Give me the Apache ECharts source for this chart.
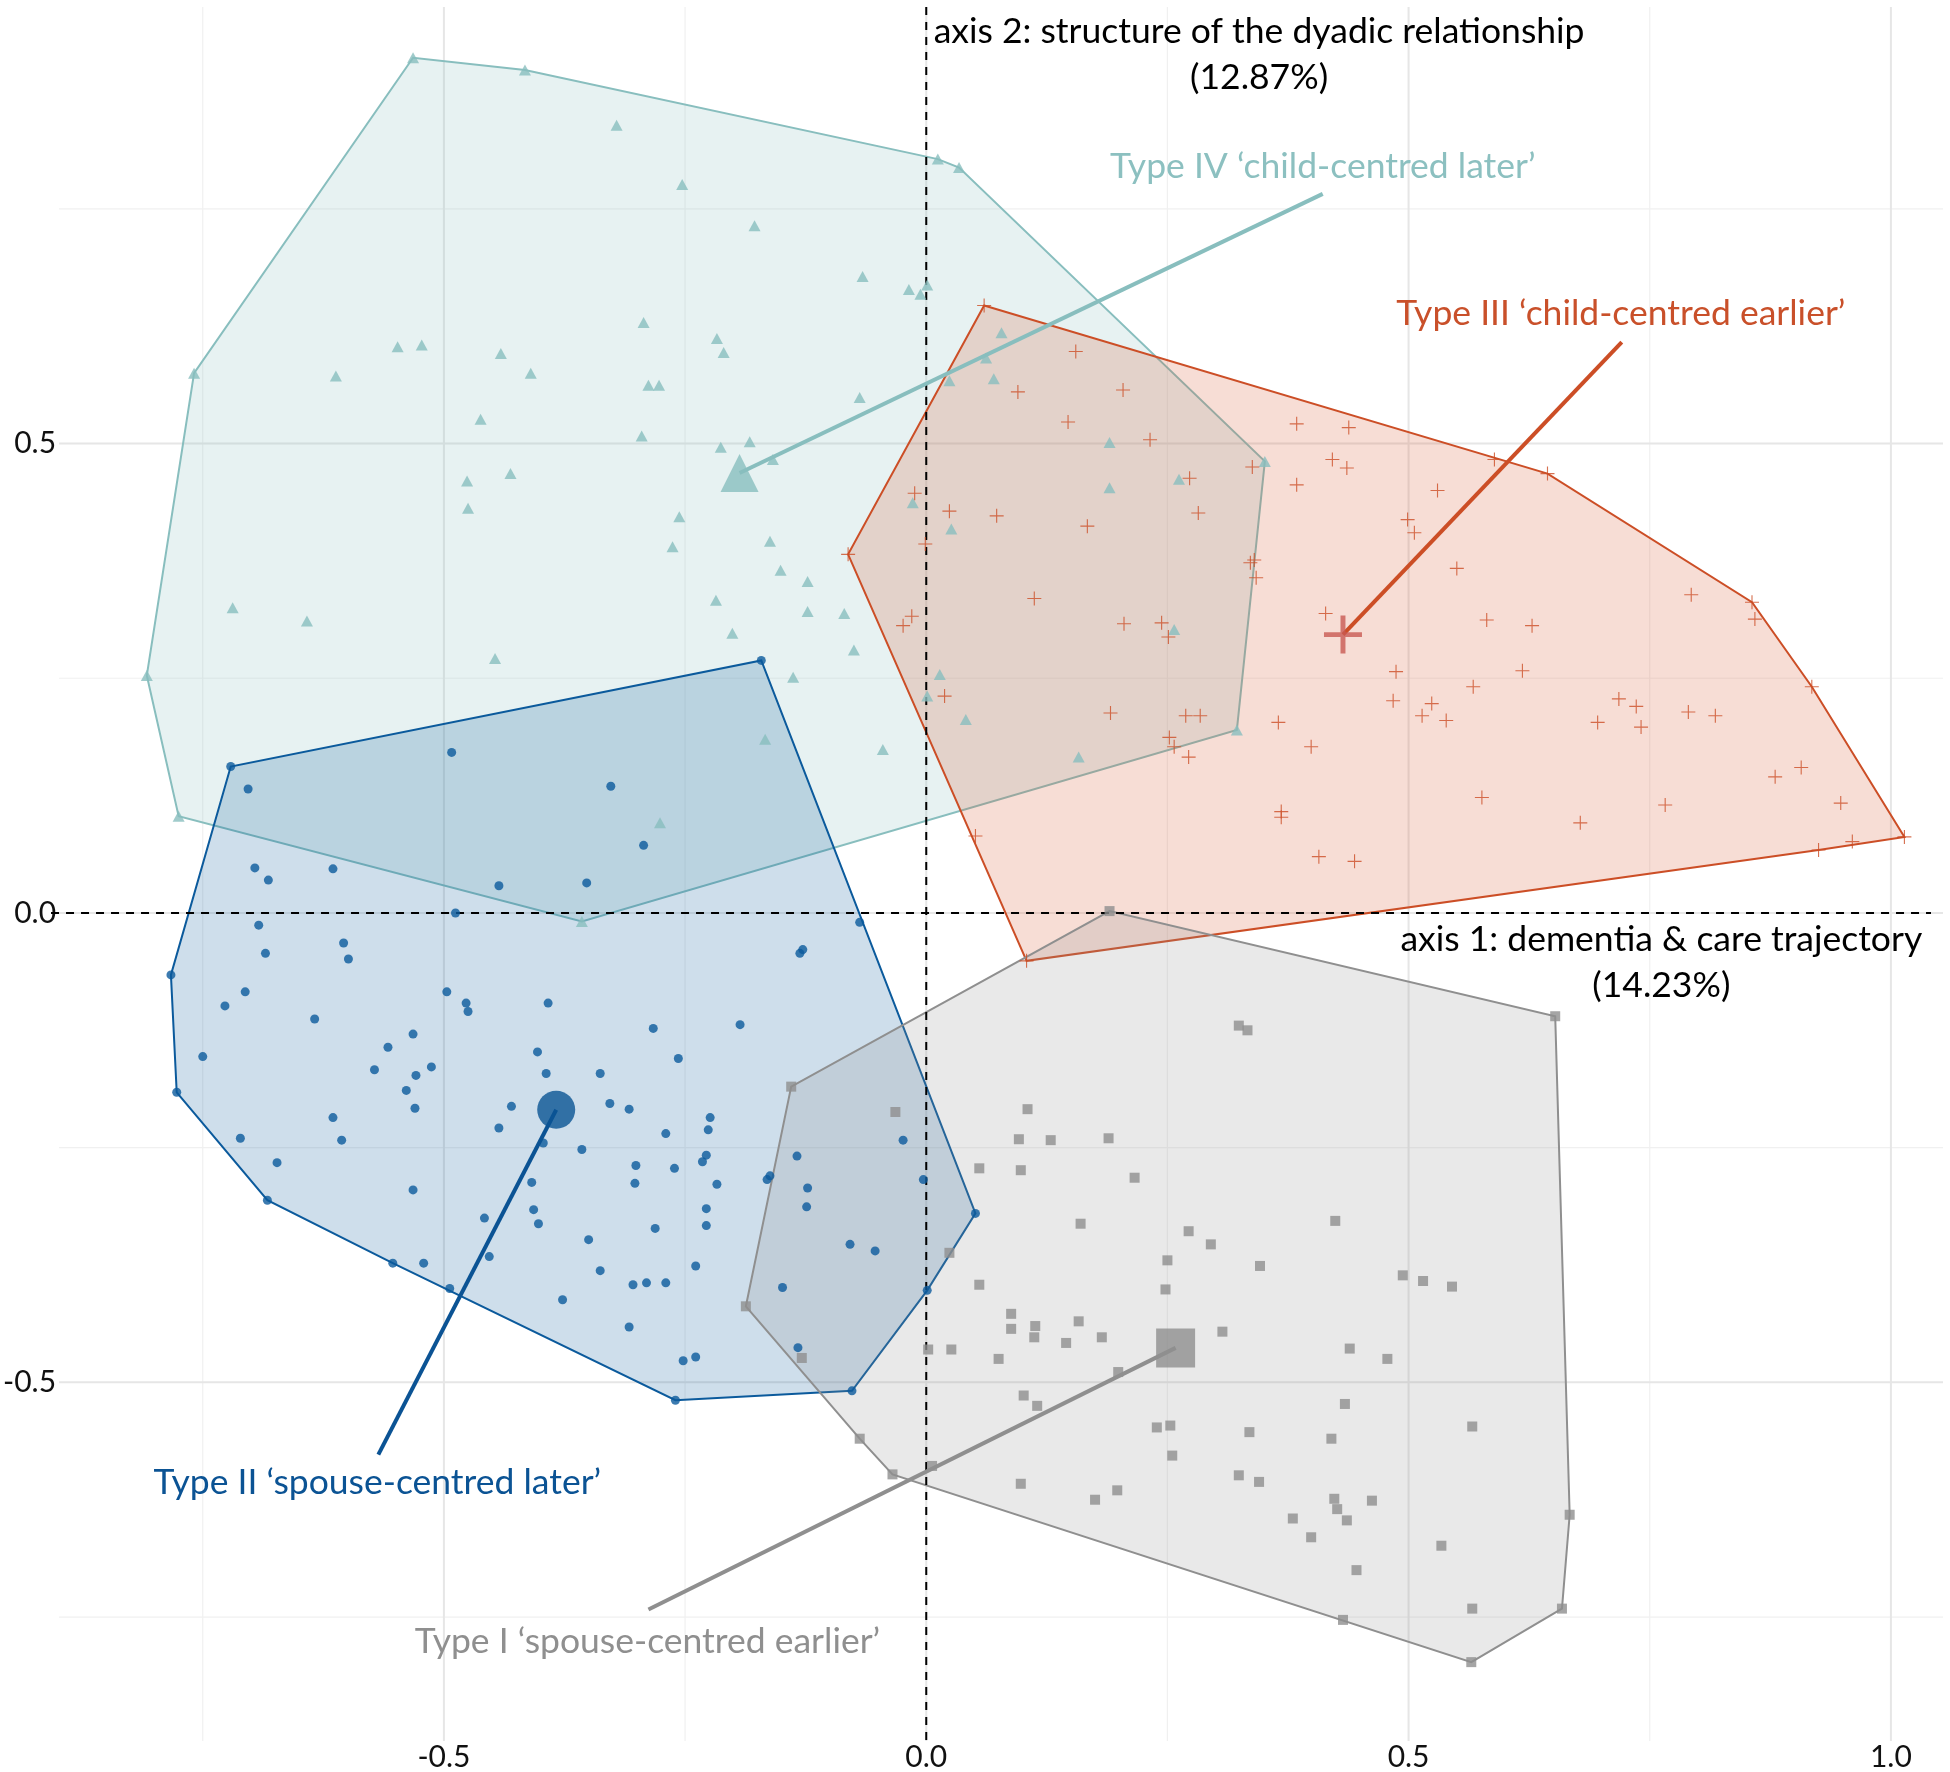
<!DOCTYPE html>
<html><head><meta charset="utf-8">
<script src="https://cdn.jsdelivr.net/npm/echarts@6/dist/echarts.min.js"></script>
<style>html,body{margin:0;padding:0;background:#fff}#c{width:1950px;height:1772px}</style>
</head><body><div id="c"></div>
<script>
// ---- data (axis 1, axis 2) ----
const typeI = [[0.190,0.002],[0.652,-0.110],[0.324,-0.120],[0.333,-0.125],[0.105,-0.209],[0.096,-0.241],[0.129,-0.242],[0.189,-0.240],[0.055,-0.272],[0.098,-0.274],[0.216,-0.282],[0.160,-0.331],[0.424,-0.328],[0.272,-0.339],[0.295,-0.353],[0.250,-0.370],[0.346,-0.376],[0.494,-0.386],[0.515,-0.392],[0.545,-0.398],[0.055,-0.396],[0.248,-0.401],[0.088,-0.427],[0.088,-0.443],[0.113,-0.440],[0.112,-0.452],[0.158,-0.435],[0.145,-0.458],[0.182,-0.452],[0.307,-0.446],[0.075,-0.475],[0.199,-0.489],[0.439,-0.464],[0.478,-0.475],[0.101,-0.514],[0.115,-0.525],[0.434,-0.523],[0.239,-0.548],[0.253,-0.546],[0.335,-0.553],[0.420,-0.560],[0.566,-0.547],[0.255,-0.578],[0.324,-0.599],[0.345,-0.606],[0.098,-0.608],[0.175,-0.625],[0.198,-0.615],[0.423,-0.624],[0.426,-0.635],[0.436,-0.647],[0.462,-0.626],[0.380,-0.645],[0.399,-0.665],[0.667,-0.641],[0.534,-0.674],[0.446,-0.700],[0.566,-0.741],[0.659,-0.741],[0.432,-0.753],[0.565,-0.798],[-0.140,-0.185],[-0.032,-0.212],[0.024,-0.362],[-0.187,-0.419],[-0.129,-0.474],[0.002,-0.465],[0.026,-0.465],[-0.069,-0.560],[-0.035,-0.598],[0.006,-0.589]];
const typeII = [[-0.171,0.269],[-0.721,0.156],[-0.492,0.171],[-0.703,0.132],[-0.327,0.135],[-0.293,0.072],[-0.696,0.048],[-0.682,0.035],[-0.615,0.047],[-0.443,0.029],[-0.352,0.032],[-0.488,0.000],[-0.692,-0.013],[-0.604,-0.032],[-0.599,-0.049],[-0.685,-0.043],[-0.069,-0.010],[-0.128,-0.039],[-0.131,-0.043],[-0.783,-0.066],[-0.706,-0.084],[-0.727,-0.099],[-0.497,-0.084],[-0.477,-0.096],[-0.475,-0.105],[-0.392,-0.096],[-0.634,-0.113],[-0.283,-0.123],[-0.193,-0.119],[-0.750,-0.153],[-0.532,-0.129],[-0.558,-0.143],[-0.403,-0.148],[-0.257,-0.155],[-0.572,-0.167],[-0.529,-0.173],[-0.513,-0.164],[-0.394,-0.171],[-0.338,-0.171],[-0.777,-0.191],[-0.539,-0.189],[-0.530,-0.208],[-0.430,-0.206],[-0.328,-0.203],[-0.308,-0.209],[-0.615,-0.218],[-0.443,-0.229],[-0.224,-0.218],[-0.226,-0.231],[-0.270,-0.235],[-0.024,-0.242],[-0.711,-0.240],[-0.606,-0.242],[-0.397,-0.245],[-0.357,-0.252],[-0.673,-0.266],[-0.228,-0.258],[-0.232,-0.265],[-0.301,-0.269],[-0.261,-0.272],[-0.134,-0.259],[-0.162,-0.280],[-0.165,-0.284],[-0.003,-0.284],[-0.302,-0.288],[-0.217,-0.289],[-0.409,-0.287],[-0.532,-0.295],[-0.123,-0.293],[-0.683,-0.306],[-0.124,-0.313],[-0.228,-0.315],[-0.407,-0.316],[0.051,-0.320],[-0.402,-0.331],[-0.228,-0.333],[-0.458,-0.325],[-0.281,-0.336],[-0.350,-0.348],[-0.079,-0.353],[-0.053,-0.360],[-0.453,-0.366],[-0.338,-0.381],[-0.553,-0.373],[-0.521,-0.373],[-0.239,-0.376],[-0.494,-0.400],[-0.304,-0.396],[-0.290,-0.394],[-0.270,-0.394],[-0.149,-0.399],[0.001,-0.402],[-0.377,-0.412],[-0.308,-0.441],[-0.133,-0.463],[-0.252,-0.477],[-0.239,-0.473],[-0.077,-0.509],[-0.260,-0.519]];
const typeIII = [[0.060,0.647],[0.155,0.598],[0.095,0.555],[0.204,0.557],[0.147,0.523],[0.232,0.504],[0.384,0.521],[0.438,0.517],[0.421,0.483],[0.436,0.474],[0.589,0.483],[0.644,0.468],[0.338,0.475],[0.273,0.463],[0.384,0.456],[0.530,0.450],[0.073,0.423],[0.167,0.412],[0.282,0.426],[0.499,0.419],[0.506,0.405],[0.550,0.367],[0.336,0.373],[0.340,0.376],[0.342,0.357],[0.793,0.339],[0.856,0.331],[0.859,0.313],[0.112,0.335],[0.414,0.319],[0.581,0.312],[0.628,0.306],[0.205,0.308],[0.244,0.309],[0.251,0.294],[0.487,0.257],[0.618,0.258],[0.567,0.241],[0.918,0.241],[0.484,0.226],[0.524,0.223],[0.514,0.210],[0.539,0.205],[0.718,0.228],[0.736,0.220],[0.741,0.198],[0.696,0.203],[0.790,0.214],[0.818,0.210],[0.191,0.213],[0.269,0.210],[0.284,0.210],[0.365,0.203],[0.399,0.177],[0.252,0.187],[0.257,0.177],[0.272,0.166],[0.880,0.145],[0.907,0.155],[0.576,0.123],[0.766,0.115],[0.948,0.117],[0.368,0.108],[0.368,0.102],[0.678,0.096],[1.014,0.081],[0.925,0.067],[0.960,0.076],[0.407,0.060],[0.444,0.055],[-0.081,0.382],[-0.012,0.447],[0.024,0.428],[-0.001,0.393],[-0.024,0.306],[-0.015,0.316],[0.019,0.231],[0.051,0.082],[0.104,-0.051]];
const typeIV = [[-0.532,0.911],[-0.416,0.898],[-0.321,0.839],[-0.253,0.776],[-0.178,0.732],[-0.066,0.678],[-0.018,0.664],[-0.006,0.659],[0.001,0.669],[0.012,0.803],[0.034,0.794],[-0.293,0.629],[-0.217,0.612],[-0.210,0.597],[-0.548,0.603],[-0.523,0.605],[-0.441,0.596],[-0.410,0.575],[-0.612,0.572],[-0.759,0.575],[-0.288,0.562],[-0.277,0.562],[-0.069,0.549],[0.024,0.567],[-0.462,0.526],[-0.295,0.508],[-0.213,0.496],[-0.183,0.502],[-0.159,0.483],[-0.476,0.460],[-0.431,0.468],[-0.475,0.431],[-0.256,0.422],[-0.263,0.390],[-0.162,0.396],[-0.014,0.437],[0.026,0.409],[-0.151,0.365],[-0.123,0.353],[-0.218,0.333],[-0.123,0.321],[-0.085,0.319],[-0.719,0.325],[-0.642,0.311],[-0.201,0.298],[-0.075,0.280],[-0.447,0.271],[-0.138,0.251],[-0.808,0.253],[0.014,0.254],[0.001,0.231],[0.041,0.206],[-0.167,0.185],[-0.045,0.174],[-0.276,0.096],[-0.775,0.103],[0.078,0.618],[0.070,0.569],[0.062,0.591],[0.190,0.501],[0.190,0.453],[0.262,0.462],[0.351,0.481],[0.257,0.302],[0.322,0.195],[0.158,0.166],[-0.357,-0.009]];

const centroidI = [0.2585,-0.4633];
const centroidII = [-0.3836,-0.2096];
const centroidIII = [0.432,0.2965];
const centroidIV = [-0.1935,0.4686];

// label anchors: end of connector, and text centre
const connectorEnd = [[-0.288,-0.742],[-0.568,-0.577],[0.721,0.608],[0.411,0.766]];
const typeNames = ['Type I \u2018spouse-centred earlier\u2019','Type II \u2018spouse-centred later\u2019','Type III \u2018child-centred earlier\u2019','Type IV \u2018child-centred later\u2019'];
const typeLabelPos = [[-0.289,-0.776],[-0.569,-0.607],[0.720,0.638],[0.411,0.795]];

const axisNoteText = ['axis 2: structure of the dyadic relationship','(12.87%)','axis 1: dementia & care trajectory','(14.23%)'];
const axisNotePos = [[0.345,0.939],[0.345,0.890],[0.762,-0.028],[0.762,-0.077]];

const xTickValues = [-0.5,0,0.5,1.0];
const xTickLabels = ['-0.5','0.0','0.5','1.0'];
const yTickValues = [-0.5,0,0.5];
const yTickLabels = ['-0.5','0.0','0.5'];
const gridMajorX = [-0.5,0,0.5,1.0];
const gridMinorX = [-0.75,-0.25,0.25,0.75];
const gridMajorY = [-0.5,0,0.5];
const gridMinorY = [-0.75,-0.25,0.25,0.75];

// ---- styles ----
const colI='#8F8F8F', colII='#0B5A9C', colIII='#CC4E26', colIV='#88BEBE';
const fillI='rgba(143,143,143,0.2)', fillII='rgba(11,90,156,0.2)', fillIII='rgba(214,84,44,0.2)', fillIV='rgba(136,190,190,0.2)';
const textCol=['#8F8F8F','#0B5394','#C9502A','#8CC0C0'];
const XMIN=-0.899, XMAX=1.054, YMIN=-0.882, YMAX=0.965;
const FONT='Lato';
const NOTE_FONT='35.5px '+FONT;

function convexHull(pts){
  const p=pts.slice().sort((a,b)=>a[0]-b[0]||a[1]-b[1]);
  const cr=(o,a,b)=>(a[0]-o[0])*(b[1]-o[1])-(a[1]-o[1])*(b[0]-o[0]);
  const lo=[];for(const q of p){while(lo.length>=2&&cr(lo[lo.length-2],lo[lo.length-1],q)<=0)lo.pop();lo.push(q);}
  const up=[];for(let i=p.length-1;i>=0;i--){const q=p[i];while(up.length>=2&&cr(up[up.length-2],up[up.length-1],q)<=0)up.pop();up.push(q);}
  lo.pop();up.pop();return lo.concat(up);
}

function hullSeries(pts, stroke, fill){
  const h=convexHull(pts);
  return {type:'custom',silent:true,z:1,data:[[0,0]],clip:false,
    renderItem:(params,api)=>({type:'polygon',shape:{points:h.map(p=>api.coord(p))},
      style:{fill:fill,stroke:stroke,lineWidth:2}})};
}

function gridSeries(vals, vertical, color, width){
  return {type:'custom',silent:true,z:0,data:vals.map(v=>[v]),
    renderItem:(params,api)=>{
      const cs=params.coordSys; const v=api.value(0);
      if(vertical){const x=api.coord([v,0])[0];return {type:'line',shape:{x1:x,y1:cs.y,x2:x,y2:cs.y+cs.height},style:{stroke:color,lineWidth:width}};}
      const y=api.coord([0,v])[1];return {type:'line',shape:{x1:cs.x,y1:y,x2:cs.x+cs.width,y2:y},style:{stroke:color,lineWidth:width}};
    }};
}

const plusPath='path://M46,0h8v46h46v8h-46v46h-8v-46h-46v-8h46z';
const bigPlusPath='path://M43.5,0h13v43.5h43.5v13h-43.5v43.5h-13v-43.5h-43.5v-13h43.5z';

const series=[
  gridSeries(gridMinorX,true,'#F0F0F0',1.2),
  gridSeries(gridMinorY,false,'#F0F0F0',1.2),
  gridSeries(gridMajorX,true,'#E6E6E6',2),
  gridSeries(gridMajorY,false,'#E6E6E6',2),
  hullSeries(typeIV,colIV,fillIV),
  hullSeries(typeIII,colIII,fillIII),
  hullSeries(typeII,colII,fillII),
  hullSeries(typeI,colI,fillI),
  // dashed zero lines
  {type:'custom',silent:true,z:3,clip:false,data:[[0,0]],
    renderItem:(params,api)=>{
      const cs=params.coordSys; const o=api.coord([0,0]);
      const st={stroke:'#000',lineWidth:2,lineDash:[8,7]};
      return {type:'group',children:[
        {type:'line',shape:{x1:o[0],y1:cs.y,x2:o[0],y2:cs.y+cs.height+6},style:st},
        {type:'line',shape:{x1:cs.x-8,y1:o[1],x2:cs.x+cs.width-12,y2:o[1]},style:st}
      ]};
    }},
  {type:'scatter',z:4,data:typeIV,symbol:'triangle',symbolSize:[12,11],itemStyle:{color:colIV},silent:true},
  {type:'scatter',z:4,data:typeIII,symbol:plusPath,symbolSize:14,itemStyle:{color:colIII},silent:true},
  {type:'scatter',z:4,data:typeII,symbol:'circle',symbolSize:9,itemStyle:{color:colII},silent:true},
  {type:'scatter',z:4,data:typeI,symbol:'rect',symbolSize:10,itemStyle:{color:colI},silent:true},
];
const cents=[centroidI,centroidII,centroidIII,centroidIV];
const lineCols=[colI,'#0B5394',colIII,colIV];
cents.forEach((c,i)=>{
  series.push({type:'line',z:5,silent:true,data:[c,connectorEnd[i]],showSymbol:false,symbol:'none',
    lineStyle:{color:lineCols[i],width:4},animation:false});
});
series.push({type:'scatter',z:6,silent:true,data:[centroidI],symbol:'rect',symbolSize:39,itemStyle:{color:colI}});
series.push({type:'scatter',z:6,silent:true,data:[centroidII],symbol:'circle',symbolSize:38,itemStyle:{color:'#0A5494'}});
series.push({type:'scatter',z:6,silent:true,data:[centroidIII],symbol:bigPlusPath,symbolSize:38,itemStyle:{color:'#C85A52'}});
series.push({type:'scatter',z:6,silent:true,data:[centroidIV],symbol:'triangle',symbolSize:[38,38],itemStyle:{color:colIV}});
// text labels
series.push({type:'custom',z:7,silent:true,clip:false,data:typeLabelPos.map((p,i)=>[p[0],p[1],i]),
  renderItem:(params,api)=>{const i=api.value(2);const pt=api.coord([api.value(0),api.value(1)]);
    return {type:'text',x:pt[0],y:pt[1],style:{text:typeNames[i],fill:textCol[i],font:NOTE_FONT,align:'center',verticalAlign:'middle'}};}});
series.push({type:'custom',z:7,silent:true,clip:false,data:axisNotePos.map((p,i)=>[p[0],p[1],i]),
  renderItem:(params,api)=>{const i=api.value(2);const pt=api.coord([api.value(0),api.value(1)]);
    return {type:'text',x:pt[0],y:pt[1],style:{text:axisNoteText[i],fill:'#000',font:NOTE_FONT,align:'center',verticalAlign:'middle'}};}});

const chart=echarts.init(document.getElementById('c'),null,{renderer:'canvas'});
chart.setOption({
  animation:false,
  backgroundColor:'#fff',
  grid:{left:56,right:7,top:7,bottom:24,containLabel:false},
  xAxis:{type:'value',min:XMIN,max:XMAX,axisLine:{show:false},axisTick:{show:false},splitLine:{show:false},
    axisLabel:{customValues:xTickValues,formatter:v=>xTickLabels[xTickValues.findIndex(t=>Math.abs(t-v)<1e-9)]??'',
      fontFamily:FONT,fontSize:30,color:'#111',margin:1}},
  yAxis:{type:'value',min:YMIN,max:YMAX,axisLine:{show:false},axisTick:{show:false},splitLine:{show:false},
    axisLabel:{customValues:yTickValues,formatter:v=>yTickLabels[yTickValues.findIndex(t=>Math.abs(t-v)<1e-9)]??'',
      fontFamily:FONT,fontSize:30,color:'#111',margin:3}},
  series:series
});
</script></body></html>
